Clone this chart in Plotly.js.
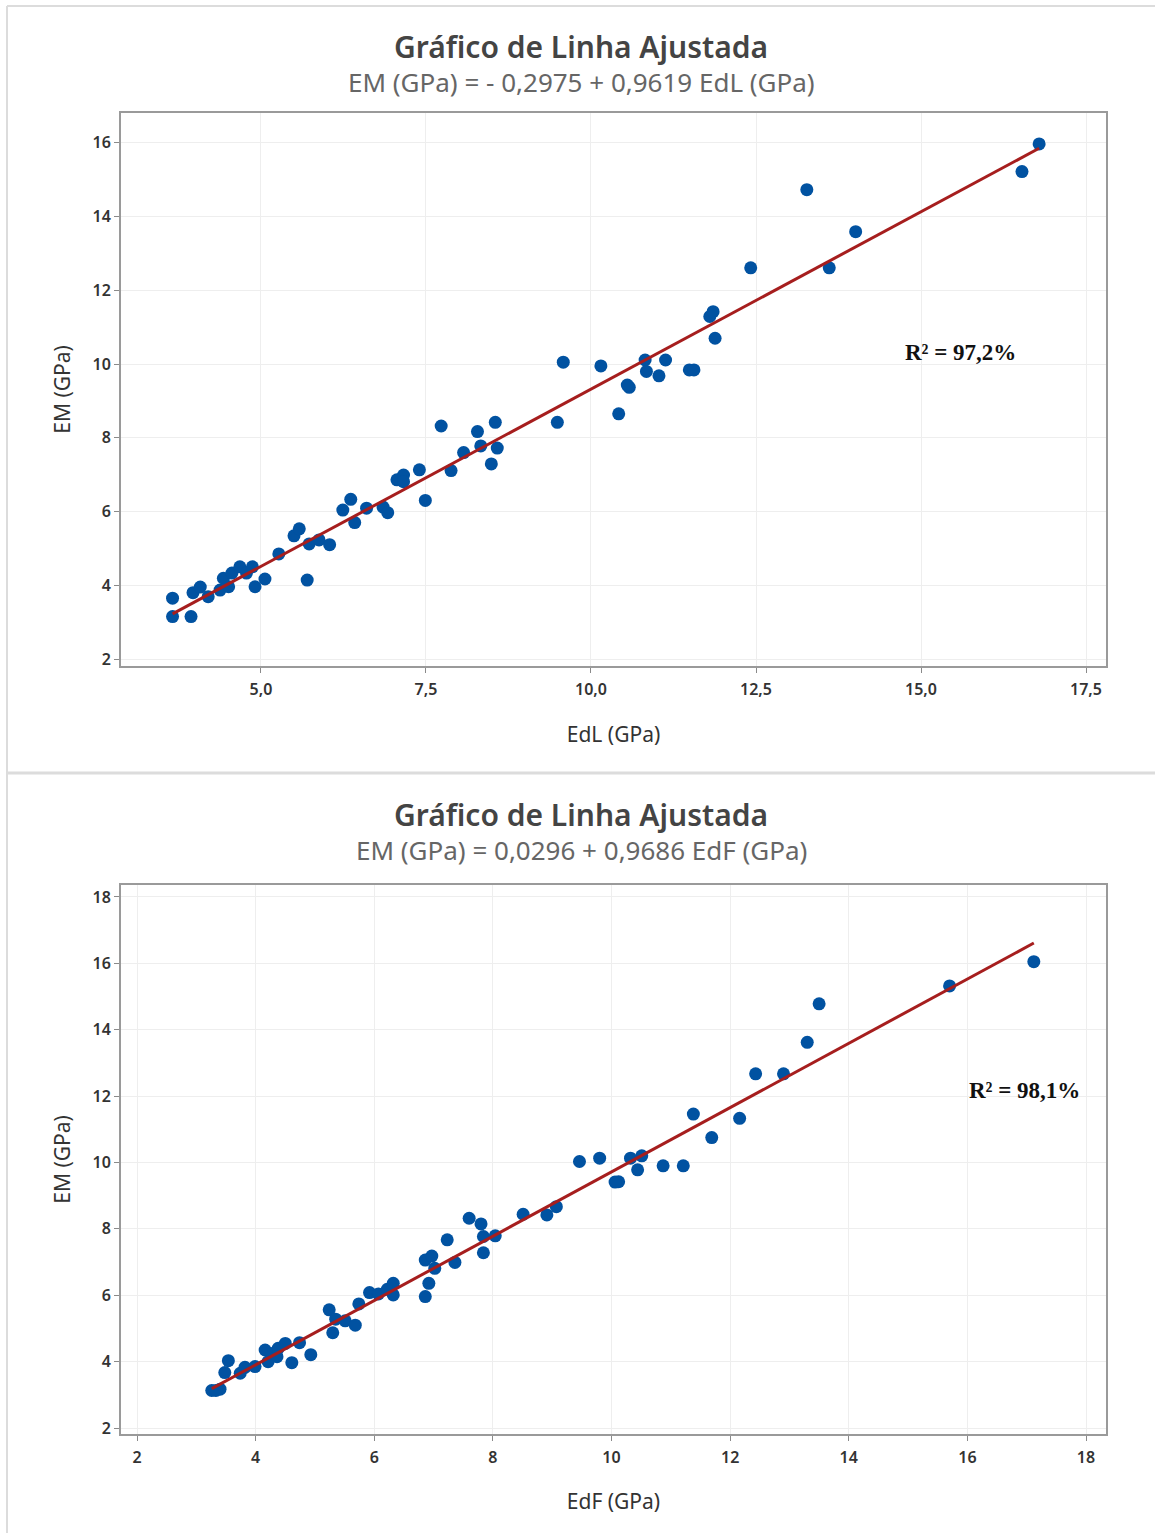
<!DOCTYPE html>
<html>
<head>
<meta charset="utf-8">
<script src="https://cdn.plot.ly/plotly-3.0.1.min.js"></script>
<style>
  html, body { margin: 0; padding: 0; background: #ffffff; }
  #chart { width: 1155px; height: 1533px; }
</style>
</head>
<body>
<div id="chart"></div>
<script>
// ---------- Data ----------
// Top chart: EM (GPa) vs EdL (GPa)
const edl = [3.66, 3.66, 3.94, 3.97, 4.08, 4.20, 4.38, 4.43, 4.51, 4.56, 4.68, 4.78, 4.87, 4.91, 5.06,
  5.27, 5.50, 5.58, 5.70, 5.73, 5.88, 6.04, 6.24, 6.36, 6.42, 6.60, 6.85, 6.92, 7.06, 7.16, 7.16,
  7.40, 7.49, 7.73, 7.88, 8.07, 8.28, 8.33, 8.49, 8.55, 8.58, 9.49, 9.58, 10.15, 10.42, 10.58, 10.55,
  10.82, 10.84, 11.03, 11.13, 11.49, 11.56, 11.80, 11.85, 11.88, 12.42, 13.27, 13.61, 14.01, 16.53, 16.79];
const emTop = [3.65, 3.15, 3.15, 3.80, 3.95, 3.69, 3.87, 4.19, 3.96, 4.33, 4.50, 4.33, 4.50, 3.96, 4.17,
  4.85, 5.34, 5.53, 4.14, 5.12, 5.23, 5.10, 6.04, 6.33, 5.70, 6.09, 6.12, 5.97, 6.86, 6.99, 6.81,
  7.13, 6.30, 8.32, 7.11, 7.60, 8.17, 7.78, 7.29, 8.42, 7.72, 8.42, 10.05, 9.95, 8.65, 9.37, 9.43,
  10.11, 9.80, 9.68, 10.11, 9.84, 9.84, 11.29, 11.42, 10.70, 12.61, 14.73, 12.61, 13.59, 15.22, 15.97];

// Bottom chart: EM (GPa) vs EdF (GPa)
const edf = [3.26, 3.40, 3.33, 3.54, 3.48, 3.74, 3.82, 3.99, 4.16, 4.21, 4.30, 4.38, 4.50, 4.36, 4.61,
  4.74, 4.93, 5.24, 5.30, 5.35, 5.51, 5.68, 5.74, 5.92, 6.07, 6.22, 6.32, 6.32, 6.86, 6.97, 7.02,
  6.92, 6.86, 7.23, 7.36, 7.60, 7.80, 7.84, 7.84, 8.04, 8.51, 8.91, 9.07, 9.46, 9.80, 10.12, 10.06,
  10.32, 10.51, 10.44, 10.87, 11.21, 11.38, 11.69, 12.16, 12.43, 12.90, 13.30, 13.50, 15.70, 17.12];
const emBot = [3.13, 3.17, 3.13, 4.03, 3.67, 3.65, 3.83, 3.85, 4.35, 4.00, 4.25, 4.40, 4.55, 4.15, 3.97,
  4.57, 4.21, 5.56, 4.87, 5.28, 5.23, 5.10, 5.74, 6.08, 6.04, 6.18, 6.36, 6.01, 7.06, 7.18, 6.81,
  6.36, 5.96, 7.67, 6.99, 8.32, 8.15, 7.77, 7.28, 7.79, 8.44, 8.42, 8.67, 10.03, 10.13, 9.42, 9.41,
  10.13, 10.20, 9.78, 9.90, 9.90, 11.46, 10.75, 11.33, 12.67, 12.67, 13.62, 14.78, 15.32, 16.05];

// Fitted-line coefficients (from the chart subtitles)
const fitTop = { intercept: -0.2975, slope: 0.9619 };
const fitBot = { intercept: 0.0296, slope: 0.9686 };

// Texts
const mainTitle = "Gráfico de Linha Ajustada";
const subTop = "EM (GPa) = - 0,2975 + 0,9619 EdL (GPa)";
const subBot = "EM (GPa) = 0,0296 + 0,9686 EdF (GPa)";
const r2Top = "R² = 97,2%";
const r2Bot = "R² = 98,1%";
const xTitleTop = "EdL (GPa)";
const xTitleBot = "EdF (GPa)";
const yTitle = "EM (GPa)";

// ---------- Build ----------
const W = 1155, H = 1533;
const px = v => v / W;               // x pixel -> paper
const py = v => 1 - v / H;           // y pixel -> paper

function lineFor(xs, fit) {
  const lo = Math.min(...xs), hi = Math.max(...xs);
  return { x: [lo, hi], y: [fit.intercept + fit.slope * lo, fit.intercept + fit.slope * hi] };
}
const lTop = lineFor(edl, fitTop);
const lBot = lineFor(edf, fitBot);

const markerStyle = { color: '#0152A1', size: 13, line: { width: 0 } };
const lineStyle = { color: '#A61E1E', width: 3 };

const data = [
  { x: edl, y: emTop, type: 'scatter', mode: 'markers', marker: markerStyle, xaxis: 'x', yaxis: 'y', hoverinfo: 'x+y' },
  { x: lTop.x, y: lTop.y, type: 'scatter', mode: 'lines', line: lineStyle, xaxis: 'x', yaxis: 'y' },
  { x: edf, y: emBot, type: 'scatter', mode: 'markers', marker: markerStyle, xaxis: 'x2', yaxis: 'y2', hoverinfo: 'x+y' },
  { x: lBot.x, y: lBot.y, type: 'scatter', mode: 'lines', line: lineStyle, xaxis: 'x2', yaxis: 'y2' }
];

const FAM = 'Noto Sans, Open Sans, sans-serif';
const tickFont = { family: FAM, size: 16, color: '#333333', weight: 600 };
const titleFont = { family: FAM, size: 21, color: '#333333' };

function axisBase() {
  return {
    showline: true, mirror: true, linecolor: '#9a9a9a', linewidth: 2,
    ticks: 'outside', ticklen: 5, tickcolor: '#8a8a8a', tickwidth: 1,
    showgrid: true, gridcolor: '#eeeeee', gridwidth: 1,
    zeroline: false, tickfont: tickFont, automargin: false, fixedrange: true
  };
}

const layout = {
  width: W, height: H,
  margin: { l: 0, r: 0, t: 0, b: 0 },
  paper_bgcolor: '#ffffff', plot_bgcolor: '#ffffff',
  showlegend: false,
  separators: ',.',
  xaxis: Object.assign(axisBase(), {
    domain: [px(121), px(1106)], anchor: 'y',
    range: [2.879, 17.803], tick0: 0, dtick: 2.5, tickformat: '.1f', ticklabelstandoff: 3,
    title: { text: xTitleTop, font: titleFont, standoff: 28 }
  }),
  yaxis: Object.assign(axisBase(), {
    domain: [py(666), py(113)], anchor: 'x',
    range: [1.81, 16.81], tick0: 0, dtick: 2,
    title: { text: yTitle, font: titleFont, standoff: 16 }
  }),
  xaxis2: Object.assign(axisBase(), {
    domain: [px(121), px(1106)], anchor: 'y2',
    range: [1.73, 18.337], tick0: 0, dtick: 2, ticklabelstandoff: 3,
    title: { text: xTitleBot, font: titleFont, standoff: 27 }
  }),
  yaxis2: Object.assign(axisBase(), {
    domain: [py(1434), py(885)], anchor: 'x2',
    range: [1.82, 18.36], tick0: 0, dtick: 2,
    title: { text: yTitle, font: titleFont, standoff: 16 }
  }),
  annotations: [
    { text: mainTitle, xref: 'paper', yref: 'paper', x: px(581), y: py(46), xanchor: 'center', yanchor: 'middle',
      showarrow: false, font: { family: FAM, size: 30, color: '#444444', weight: 600 } },
    { text: subTop, xref: 'paper', yref: 'paper', x: px(581), y: py(82), xanchor: 'center', yanchor: 'middle',
      showarrow: false, font: { family: FAM, size: 26, color: '#666666' } },
    { text: mainTitle, xref: 'paper', yref: 'paper', x: px(581), y: py(814), xanchor: 'center', yanchor: 'middle',
      showarrow: false, font: { family: FAM, size: 30, color: '#444444', weight: 600 } },
    { text: subBot, xref: 'paper', yref: 'paper', x: px(581), y: py(850), xanchor: 'center', yanchor: 'middle',
      showarrow: false, font: { family: FAM, size: 26, color: '#666666' } },
    { text: r2Top, xref: 'paper', yref: 'paper', x: px(960), y: py(352), xanchor: 'center', yanchor: 'middle',
      showarrow: false, font: { family: 'Liberation Serif, Times New Roman, serif', size: 23, color: '#111111', weight: 700 } },
    { text: r2Bot, xref: 'paper', yref: 'paper', x: px(1024), y: py(1090), xanchor: 'center', yanchor: 'middle',
      showarrow: false, font: { family: 'Liberation Serif, Times New Roman, serif', size: 23, color: '#111111', weight: 700 } }
  ],
  shapes: [
    // panel frames
    { type: 'line', xref: 'paper', yref: 'paper', x0: px(7), x1: px(7), y0: py(6), y1: py(1533), line: { color: '#dcdcdc', width: 2 } },
    { type: 'line', xref: 'paper', yref: 'paper', x0: px(7), x1: 1, y0: py(6), y1: py(6), line: { color: '#dcdcdc', width: 2 } },
    { type: 'line', xref: 'paper', yref: 'paper', x0: px(7), x1: 1, y0: py(773), y1: py(773), line: { color: '#dcdcdc', width: 3 } }
  ]
};

Plotly.newPlot('chart', data, layout, { displayModeBar: false, staticPlot: true });
</script>
</body>
</html>
